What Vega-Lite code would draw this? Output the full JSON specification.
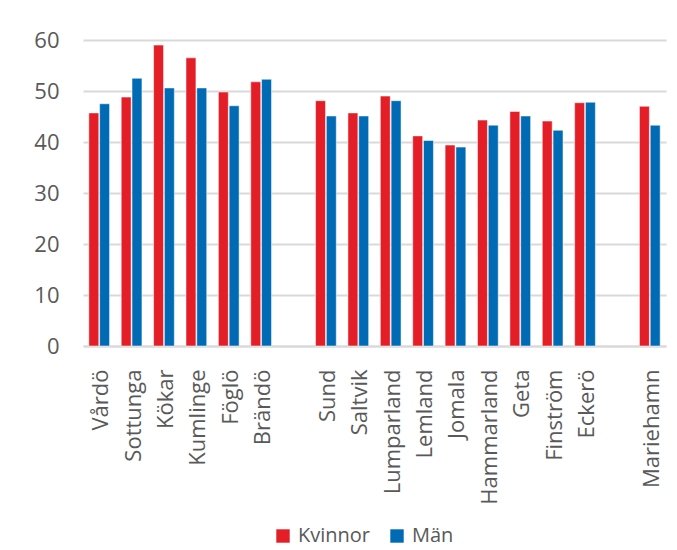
{
  "$schema": "https://vega.github.io/schema/vega-lite/v6.json",
  "autosize": "none",
  "width": 583,
  "height": 306,
  "padding": {"left": 83, "top": 40, "right": 11, "bottom": 204},
  "background": "white",
  "data": {"values": [
    {"kommun": "Vårdö", "kon": "Kvinnor", "v": 45.7},
    {"kommun": "Vårdö", "kon": "Män", "v": 47.5},
    {"kommun": "Sottunga", "kon": "Kvinnor", "v": 48.8},
    {"kommun": "Sottunga", "kon": "Män", "v": 52.5},
    {"kommun": "Kökar", "kon": "Kvinnor", "v": 59.0},
    {"kommun": "Kökar", "kon": "Män", "v": 50.6},
    {"kommun": "Kumlinge", "kon": "Kvinnor", "v": 56.5},
    {"kommun": "Kumlinge", "kon": "Män", "v": 50.6},
    {"kommun": "Föglö", "kon": "Kvinnor", "v": 49.8},
    {"kommun": "Föglö", "kon": "Män", "v": 47.1},
    {"kommun": "Brändö", "kon": "Kvinnor", "v": 51.8},
    {"kommun": "Brändö", "kon": "Män", "v": 52.3},
    {"kommun": "Sund", "kon": "Kvinnor", "v": 48.1},
    {"kommun": "Sund", "kon": "Män", "v": 45.1},
    {"kommun": "Saltvik", "kon": "Kvinnor", "v": 45.7},
    {"kommun": "Saltvik", "kon": "Män", "v": 45.1},
    {"kommun": "Lumparland", "kon": "Kvinnor", "v": 49.0},
    {"kommun": "Lumparland", "kon": "Män", "v": 48.1},
    {"kommun": "Lemland", "kon": "Kvinnor", "v": 41.2},
    {"kommun": "Lemland", "kon": "Män", "v": 40.3},
    {"kommun": "Jomala", "kon": "Kvinnor", "v": 39.4},
    {"kommun": "Jomala", "kon": "Män", "v": 39.0},
    {"kommun": "Hammarland", "kon": "Kvinnor", "v": 44.3},
    {"kommun": "Hammarland", "kon": "Män", "v": 43.3},
    {"kommun": "Geta", "kon": "Kvinnor", "v": 46.0},
    {"kommun": "Geta", "kon": "Män", "v": 45.1},
    {"kommun": "Finström", "kon": "Kvinnor", "v": 44.1},
    {"kommun": "Finström", "kon": "Män", "v": 42.3},
    {"kommun": "Eckerö", "kon": "Kvinnor", "v": 47.7},
    {"kommun": "Eckerö", "kon": "Män", "v": 47.8},
    {"kommun": "Mariehamn", "kon": "Kvinnor", "v": 47.0},
    {"kommun": "Mariehamn", "kon": "Män", "v": 43.3}
  ]},
  "mark": {"type": "bar", "stroke": "white", "strokeWidth": 1, "strokeOpacity": 0.5},
  "encoding": {
    "x": {
      "field": "kommun", "type": "nominal", "title": null,
      "scale": {
        "domain": ["Vårdö", "Sottunga", "Kökar", "Kumlinge", "Föglö", "Brändö", " ", "Sund", "Saltvik", "Lumparland", "Lemland", "Jomala", "Hammarland", "Geta", "Finström", "Eckerö", "  ", "Mariehamn"],
        "paddingInner": 0.36, "paddingOuter": 0.18
      },
      "axis": {
        "labelAngle": -90, "labelAlign": "right", "labelBaseline": "middle",
        "labelPadding": 23, "labelFontSize": 22, "labelColor": "#595959",
        "labelFont": "Open Sans", "ticks": false, "domainColor": "#D9D9D9", "domainWidth": 2,
        "grid": false, "labelOffset": 2
      }
    },
    "xOffset": {"field": "kon", "type": "nominal", "scale": {"paddingInner": 0.08}},
    "y": {
      "field": "v", "type": "quantitative", "title": null,
      "scale": {"domain": [0, 60], "nice": false},
      "axis": {
        "values": [0, 10, 20, 30, 40, 50, 60], "domain": false, "ticks": false,
        "labelPadding": 24, "labelFontSize": 22, "labelColor": "#595959", "labelFont": "Open Sans",
        "gridColor": "#D9D9D9", "gridWidth": 2
      }
    },
    "color": {
      "field": "kon", "type": "nominal", "title": null,
      "scale": {"domain": ["Kvinnor", "Män"], "range": ["#E41E26", "#006BB5"]},
      "legend": {
        "orient": "none", "legendX": 190, "legendY": 486,
        "direction": "horizontal", "symbolType": "square",
        "symbolSize": 180, "symbolStrokeWidth": 0, "labelFontSize": 20, "labelColor": "#595959",
        "labelFont": "Open Sans", "columnPadding": 16, "labelOffset": 5
      }
    }
  },
  "config": {"view": {"stroke": null}}
}
